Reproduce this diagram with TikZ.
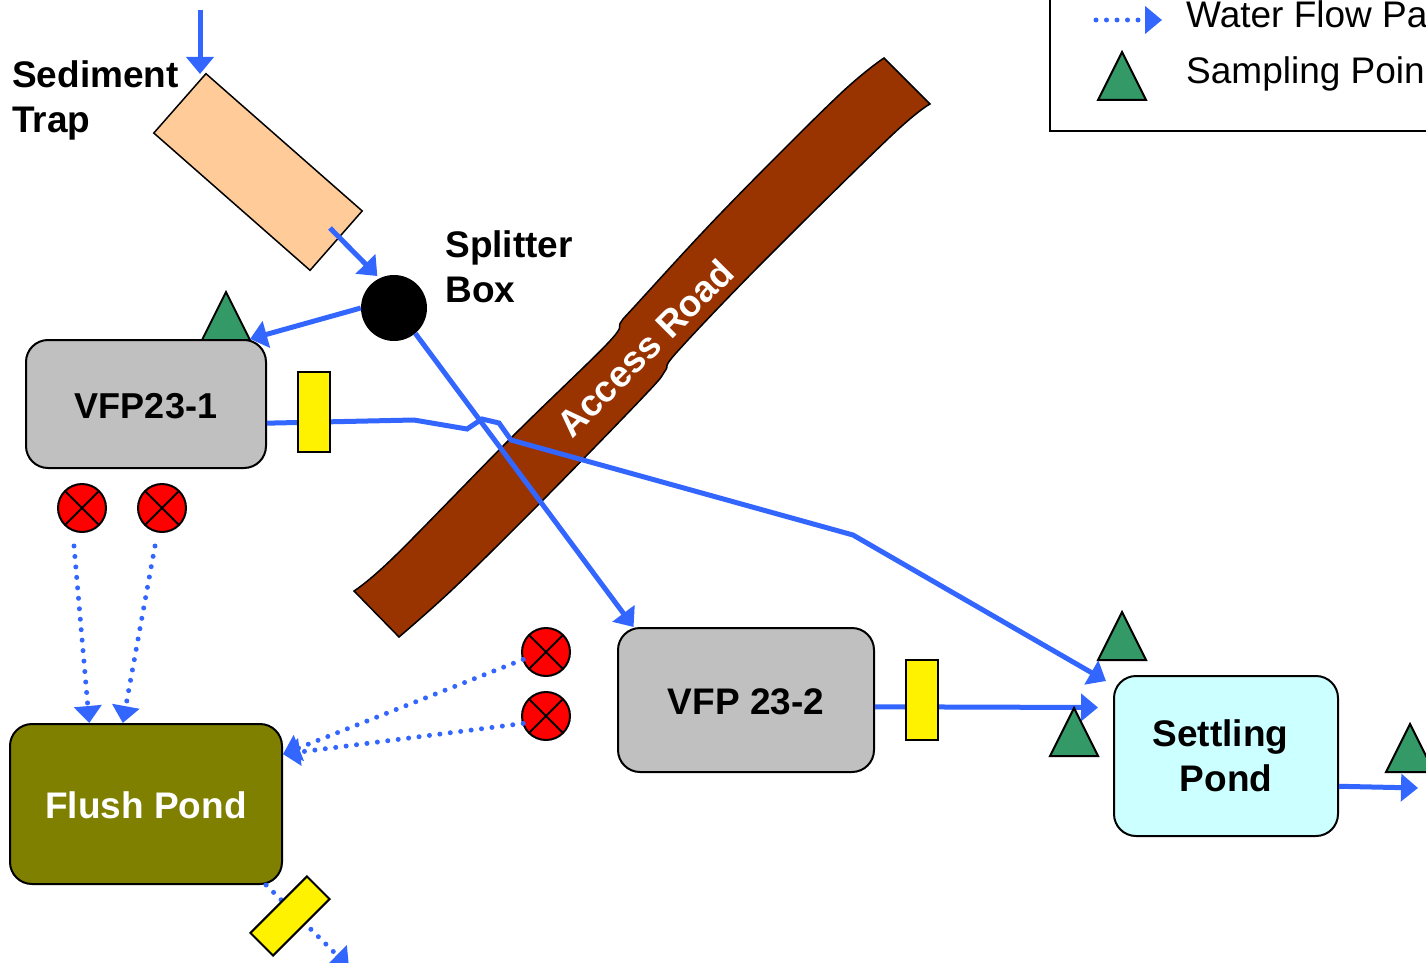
\documentclass[tikz,border=0pt]{standalone}
\usepackage{fontspec}
\setmainfont{Liberation Sans}
\usetikzlibrary{positioning}
\usetikzlibrary{shapes.geometric, arrows.meta}
\definecolor{flowblue}{HTML}{3366FF}
\definecolor{samplegreen}{HTML}{339966}
\definecolor{trapfill}{HTML}{FFCC99}
\definecolor{roadbrown}{HTML}{993300}
\definecolor{cellgray}{HTML}{C0C0C0}
\definecolor{flushfill}{HTML}{808000}
\definecolor{settlefill}{HTML}{CCFFFF}
\newcommand{\boldtext}{\fontsize{37}{44.5}\selectfont\bfseries}
\newcommand{\plaintext}{\fontsize{37}{44.5}\selectfont}
\tikzstyle{cell} = [rectangle, rounded corners=22pt, inner sep=0pt, text centered, draw=black, line width=2pt, font=\boldtext]
\tikzstyle{gate} = [rectangle, minimum width=32pt, minimum height=80pt, inner sep=0pt, draw=black, line width=2pt, fill=yellow]
\tikzstyle{seep} = [circle, minimum size=48pt, inner sep=0pt, outer sep=0pt, draw=black, line width=2pt, fill=red, path picture={\draw[line width=2pt] (path picture bounding box.north west) -- (path picture bounding box.south east) (path picture bounding box.north east) -- (path picture bounding box.south west);}]
\tikzstyle{samplept} = [isosceles triangle, isosceles triangle apex angle=53.13, isosceles triangle stretches, shape border rotate=90, minimum width=48pt, minimum height=48pt, inner sep=0pt, outer sep=0pt, anchor=lower side, draw=black, line width=2pt, fill=samplegreen]
\tikzstyle{caption} = [inner sep=0pt, align=left, font=\boldtext]
\tikzstyle{flow} = [line width=5pt, draw=flowblue, -{Triangle[length=17pt,width=27pt]}]
\tikzstyle{seepflow} = [line width=5pt, draw=flowblue, line cap=round, dash pattern=on 0pt off 10.5pt, -{Triangle[length=17pt,width=27pt]}]

\begin{document}
\begin{tikzpicture}[x=1pt,y=-1pt]
        \useasboundingbox (0,0) rectangle (1426,963);

        % Access road
        \draw[black, line width=1.5pt, fill=roadbrown] plot[smooth, tension=0.6] coordinates {(884,58) (838,96) (723,211) (635,306) (621,322) (608,343) (512,437) (394,557) (354,591)} -- plot[smooth, tension=0.6] coordinates {(399,637) (455,587) (543,500) (646,394) (665,371) (677,352) (761,264) (891,136) (930,104)} -- cycle;
        \node[rotate=45, inner sep=0pt, white, font=\boldtext] (road) at (645,348) {Access Road};

        % Legend
        \draw[black, line width=2.5pt] (1050,-20) rectangle (1500,131);
        \coordinate (keyfrom) at (1096,20);
        \coordinate (keyto) at (1162,20);
        \node[samplept] (keysample) at (1122,100) {};
        \node[anchor=base west, inner sep=0pt, font=\plaintext] (keyflow) at (1186,28) {Water Flow Pa};
        \node[anchor=base west, inner sep=0pt, font=\plaintext] (keypoint) at (1186,84) {Sampling Poin};

        % Sampling points behind the boxes
        \node[samplept] (samplea) at (226,340) {};
        \node[samplept] (sampleb) at (1122,660) {};
        \node[samplept] (samplec) at (1410,772) {};

        % Sediment trap and splitter
        \node[rectangle, rotate=-41.3, minimum width=208pt, minimum height=79pt, inner sep=0pt, draw=black, line width=1.5pt, fill=trapfill] (trap) at (258,172) {};
        \node[caption, anchor=west] (traptext) at (12,100.5) {Sediment\\Trap};
        \node[circle, minimum size=66pt, inner sep=0pt, fill=black] (splitter) at (394,308) {};
        \node[caption, right=18pt of splitter, yshift=41pt] (splittertext) {Splitter\\Box};

        % Cells and ponds
        \node[cell, minimum width=240pt, minimum height=128pt, fill=cellgray, text height=28.5pt, font=\fontsize{36}{44.5}\selectfont\bfseries] (vfpa) at (146,404) {VFP23-1};
        \node[cell, minimum width=256pt, minimum height=144pt, fill=cellgray, text height=29pt] (vfpb) at (746,700) {VFP 23-2};
        \node[cell, minimum width=272pt, minimum height=160pt, fill=flushfill, text=white, text height=29pt] (flush) at (146,804) {Flush Pond};
        \node[cell, minimum width=224pt, minimum height=160pt, fill=settlefill, align=center] (settling) at (1226,756) {Settling\hspace*{11pt}\\Pond};

        % Seeps
        \node[seep] (seepa) at (82,508) {};
        \node[seep, right=32pt of seepa] (seepb) {};
        \node[seep] (seepc) at (546,652) {};
        \node[seep, below=16pt of seepc] (seepd) {};

        % Free ends
        \coordinate (inflow) at (200,10);
        \coordinate (trapin) at (200,74);
        \coordinate (trapout) at (330,228);
        \coordinate (settlein) at (1106,681);
        \coordinate (settleside) at (1098,707.5);
        \coordinate (outflow) at (1418,788);
        \coordinate (dropa) at (74,546);
        \coordinate (dropb) at (155,546);
        \coordinate (drain) at (349,967);

        % Connections
        \draw[flow] (inflow) -- (trapin);
        \draw[flow, shorten >=3pt] (trapout) -- (splitter.116);
        \draw[flow] (splitter.west) -- (vfpa.32);
        \draw[flow] (splitter.-50) -- (vfpb.147);
        \draw[flow] (vfpa.-9) -- (414,420) -- (467,429) -- (482,419) -- (499,423) -- (511,440) -- (853,535) -- (settlein);
        \draw[flow] (vfpb.-3.33) -- (settleside);
        \draw[flow] (settling.-15.85) -- (outflow);
        \draw[seepflow] (dropa) -- (flush.125);
        \draw[seepflow] (dropb) -- (flush.106);
        \draw[seepflow] (seepc.198) -- (flush.20);
        \draw[seepflow] (seepd.198) -- (flush.20);
        \draw[seepflow] (flush.-34) -- (drain);
        \draw[seepflow] (keyfrom) -- (keyto);

        % Gates and last sampling point go over the lines
        \node[gate] (gatea) at (314,412) {};
        \node[gate] (gateb) at (922,700) {};
        \node[gate, rotate=-45] (gatec) at (290,916) {};
        \node[samplept] (sampled) at (1074,756) {};

\end{tikzpicture}
\end{document}
